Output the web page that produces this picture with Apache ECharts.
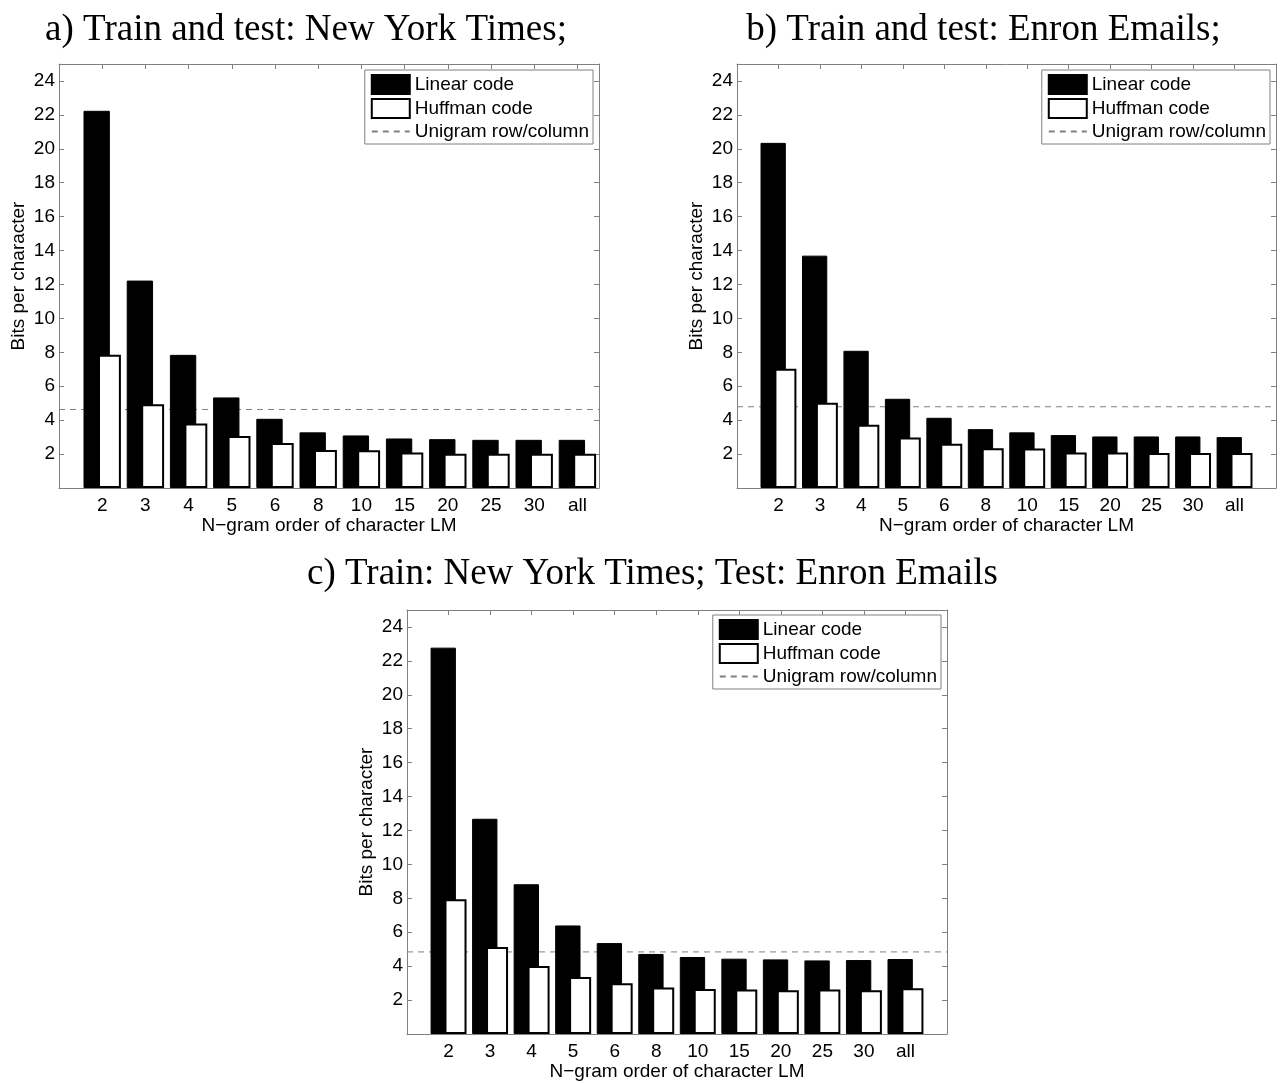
<!DOCTYPE html>
<html>
<head>
<meta charset="utf-8">
<script src="https://cdn.jsdelivr.net/npm/echarts@6/dist/echarts.min.js"></script>
<style>
html,body{margin:0;padding:0;background:#fff;}
#chart{width:1287px;height:1083px;}
</style>
</head>
<body>
<div id="chart"></div>
<script>
// ---- data ----
var categories = ['2', '3', '4', '5', '6', '8', '10', '15', '20', '25', '30', 'all'];

var nytLinear   = [22.24, 12.23, 7.85, 5.34, 4.08, 3.28, 3.10, 2.92, 2.88, 2.84, 2.84, 2.84];
var nytHuffman  = [7.85, 4.94, 3.81, 3.06, 2.65, 2.24, 2.22, 2.10, 2.02, 2.02, 2.02, 2.02];
var nytUnigram  = 4.63;

var enronLinear  = [20.35, 13.70, 8.09, 5.26, 4.14, 3.47, 3.28, 3.12, 3.04, 3.04, 3.04, 3.00];
var enronHuffman = [7.03, 5.02, 3.73, 2.98, 2.61, 2.35, 2.33, 2.10, 2.10, 2.06, 2.06, 2.06];
var enronUnigram = 4.79;

var crossLinear  = [22.78, 12.69, 8.83, 6.40, 5.36, 4.72, 4.54, 4.44, 4.40, 4.34, 4.36, 4.42];
var crossHuffman = [7.95, 5.13, 4.01, 3.36, 2.99, 2.74, 2.66, 2.62, 2.58, 2.62, 2.58, 2.70];
var crossUnigram = 4.84;

var panelTitles = [
  'a) Train and test: New York Times;',
  'b) Train and test: Enron Emails;',
  'c) Train: New York Times; Test: Enron Emails'
];
var seriesNames = ['Linear code', 'Huffman code', 'Unigram row/column'];
var xAxisName = 'N\u2212gram order of character LM';
var yAxisName = 'Bits per character';

// ---- layout ----
var panels = [
  {linear: nytLinear,   huffman: nytHuffman,   unigram: nytUnigram,   grid: {left: 59,  top: 64,  width: 540, height: 424}, xMax: 12.5, titleX: 306,   titleY: 12,  legendRight: 694, legendTop: 70},
  {linear: enronLinear, huffman: enronHuffman, unigram: enronUnigram, grid: {left: 737, top: 64,  width: 539, height: 424}, xMax: 13,   titleX: 983.5, titleY: 12,  legendRight: 17,  legendTop: 70},
  {linear: crossLinear, huffman: crossHuffman, unigram: crossUnigram, grid: {left: 407, top: 610, width: 540, height: 424}, xMax: 13,   titleX: 652.5, titleY: 556, legendRight: 346, legendTop: 615}
];

var SANS = '"Liberation Sans", Arial, Helvetica, sans-serif';
var SERIF = '"Liberation Serif", "Times New Roman", serif';
var FRAME = '#808080';

var option = {
  animation: false,
  backgroundColor: '#ffffff',
  title: [], grid: [], xAxis: [], yAxis: [], legend: [], series: []
};

panels.forEach(function (p, k) {
  option.title.push({
    text: panelTitles[k], left: p.titleX, top: p.titleY, textAlign: 'center', padding: 0,
    textStyle: {fontFamily: SERIF, fontSize: 37, fontWeight: 'normal', color: '#000'}
  });
  option.grid.push(Object.assign({containLabel: false}, p.grid));

  var axisLineStyle = {show: true, onZero: false, lineStyle: {color: FRAME, width: 1}};
  var tickStyle = {show: true, inside: true, length: 5, lineStyle: {color: FRAME, width: 1}};

  option.xAxis.push({
    type: 'value', gridIndex: k, position: 'bottom', min: 0, max: p.xMax, interval: 1,
    axisLine: axisLineStyle, axisTick: tickStyle, splitLine: {show: false},
    axisLabel: {
      margin: 8, fontFamily: SANS, fontSize: 19, color: '#000',
      formatter: function (v) { var c = categories[Math.round(v) - 1]; return (Math.abs(v - Math.round(v)) < 1e-6 && c) ? c : ''; }
    },
    name: xAxisName, nameLocation: 'middle', nameGap: 22,
    nameTextStyle: {fontFamily: SANS, fontSize: 19, color: '#000'}
  });
  option.xAxis.push({
    type: 'value', gridIndex: k, position: 'top', min: 0, max: p.xMax, interval: 1,
    axisLine: axisLineStyle, axisTick: tickStyle, splitLine: {show: false}, axisLabel: {show: false}
  });
  option.yAxis.push({
    type: 'value', gridIndex: k, position: 'left', min: 0, max: 25, interval: 2,
    axisLine: axisLineStyle, axisTick: tickStyle, splitLine: {show: false},
    axisLabel: {
      margin: 4, fontFamily: SANS, fontSize: 19, color: '#000',
      formatter: function (v) { return (v > 0 && v < 25) ? String(v) : ''; }
    },
    name: yAxisName, nameLocation: 'middle', nameGap: 31,
    nameTextStyle: {fontFamily: SANS, fontSize: 19, color: '#000'}
  });
  option.yAxis.push({
    type: 'value', gridIndex: k, position: 'right', min: 0, max: 25, interval: 2,
    axisLine: axisLineStyle, axisTick: tickStyle, splitLine: {show: false}, axisLabel: {show: false}
  });

  option.legend.push({
    orient: 'vertical', right: p.legendRight, top: p.legendTop,
    padding: [4, 4, 3, 6], itemGap: 3, itemWidth: 38, itemHeight: 19,
    borderColor: FRAME, borderWidth: 1, backgroundColor: '#fff',
    textStyle: {fontFamily: SANS, fontSize: 19, color: '#000'},
    selectedMode: false,
    data: [
      {name: seriesNames[0], icon: 'rect'},
      {name: seriesNames[1], icon: 'rect'},
      {name: seriesNames[2], itemStyle: {color: 'rgba(0,0,0,0)', borderWidth: 0, opacity: 0}}
    ]
  });

  var xi = 2 * k, yi = 2 * k;
  option.series.push({
    name: seriesNames[2], type: 'line', xAxisIndex: xi, yAxisIndex: yi, z: 1,
    symbol: 'none', silent: true,
    itemStyle: {color: 'rgba(0,0,0,0)'},
    lineStyle: {color: FRAME, width: 1, type: [6, 5]},
    data: [[0, p.unigram], [p.xMax, p.unigram]]
  });
  option.series.push({
    name: seriesNames[0], type: 'bar', xAxisIndex: xi, yAxisIndex: yi, z: 2,
    barWidth: '61%', barGap: '-45%',
    itemStyle: {color: '#000', borderColor: '#000', borderWidth: 1},
    data: p.linear.map(function (v, i) { return [i + 1, v]; })
  });
  option.series.push({
    name: seriesNames[1], type: 'bar', xAxisIndex: xi, yAxisIndex: yi, z: 2,
    barWidth: '53%', barGap: '-45%',
    itemStyle: {color: '#fff', borderColor: '#000', borderWidth: 2},
    data: p.huffman.map(function (v, i) { return [i + 1, v]; })
  });
});

var chart = echarts.init(document.getElementById('chart'), null, {renderer: 'canvas'});
chart.setOption(option);
</script>
</body>
</html>
